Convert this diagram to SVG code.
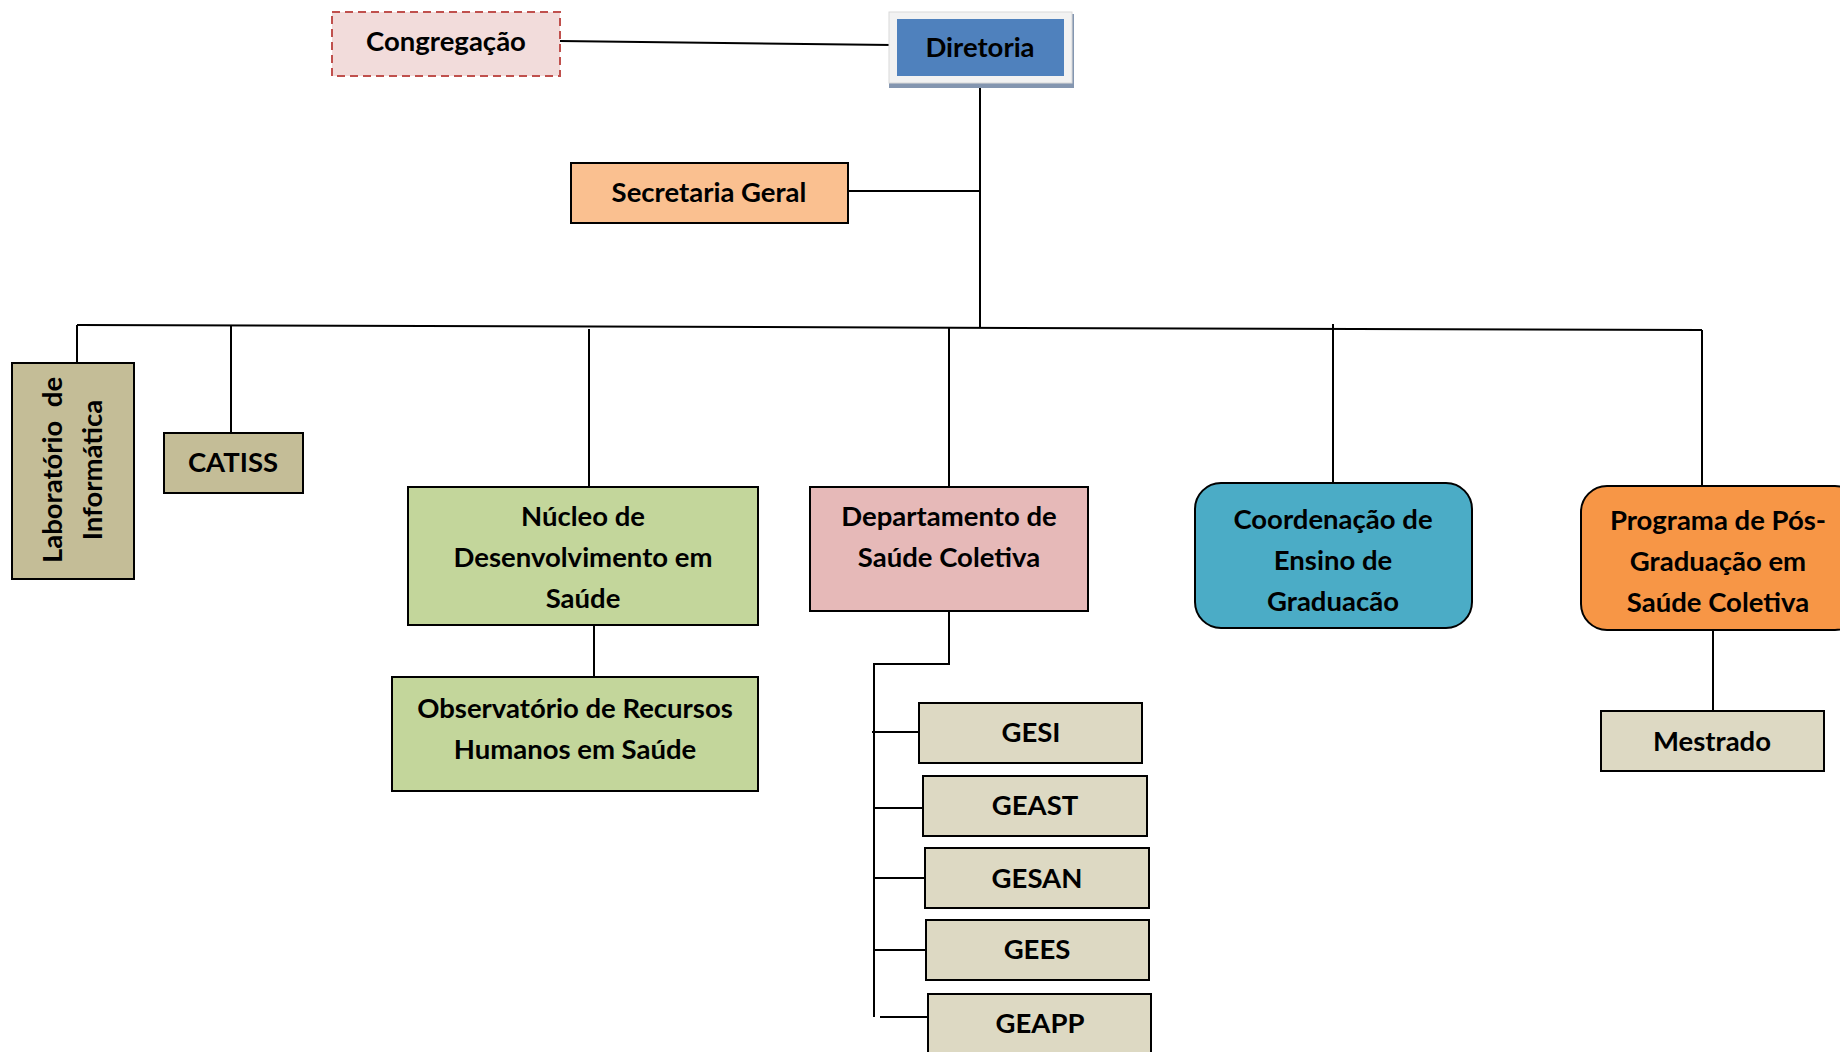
<svg xmlns="http://www.w3.org/2000/svg" width="1840" height="1052" viewBox="0 0 1840 1052">
<style>
text{font-family:Lato,"Liberation Sans",sans-serif;font-weight:700;font-size:27.5px;fill:#000;text-anchor:middle}
.b{stroke:#000;stroke-width:2}
.c line,.c polyline{stroke:#000;stroke-width:2;fill:none}
</style>
<rect width="1840" height="1052" fill="#fff"/>
<g class="c" id="connectors">
<line x1="560" y1="41" x2="892" y2="45"/>
<line x1="980" y1="76" x2="980" y2="328"/>
<line x1="848" y1="191" x2="980" y2="191"/>
<line x1="77" y1="325" x2="1702" y2="330" stroke-width="3"/>
<line x1="77" y1="325" x2="77" y2="363"/>
<line x1="231" y1="325" x2="231" y2="433"/>
<line x1="589" y1="329" x2="589" y2="487"/>
<line x1="949" y1="328" x2="949" y2="487"/>
<line x1="1333" y1="324" x2="1333" y2="483"/>
<line x1="1702" y1="330" x2="1702" y2="486"/>
<line x1="594" y1="625" x2="594" y2="677"/>
<polyline points="949,611 949,664 874,664 874,1017"/>
<line x1="872" y1="732" x2="919" y2="732"/>
<line x1="874" y1="808" x2="923" y2="808"/>
<line x1="874" y1="878" x2="925" y2="878"/>
<line x1="874" y1="950" x2="926" y2="950"/>
<line x1="880" y1="1017" x2="928" y2="1017"/>
<line x1="1713" y1="630" x2="1713" y2="711"/>
</g>
<g id="congregacao">
<rect x="332" y="12" width="228" height="64" fill="#f2dcdb" stroke="#c0504d" stroke-width="2" stroke-dasharray="8,5"/>
<text x="446" y="51">Congregação</text>
</g>
<g id="diretoria">
<rect x="889" y="14" width="185" height="74" fill="#8496b0"/>
<rect x="889" y="12" width="183" height="71" fill="#f2f2f2" stroke="#d9d9d9"/>
<rect x="897" y="19" width="167" height="57" fill="#4f81bd"/>
<text x="980" y="57">Diretoria</text>
</g>
<g id="secretaria">
<rect x="571" y="163" width="277" height="60" fill="#fac090" class="b"/>
<text x="709" y="202">Secretaria Geral</text>
</g>
<g id="laboratorio">
<rect x="12" y="363" width="122" height="216" fill="#c4bd97" class="b"/>
<text transform="translate(62,470) rotate(-90)" xml:space="preserve">Laboratório  de</text>
<text transform="translate(102,470) rotate(-90)">Informática</text>
</g>
<g id="catiss">
<rect x="164" y="433" width="139" height="60" fill="#c4bd97" class="b"/>
<text x="233" y="472">CATISS</text>
</g>
<g id="nucleo">
<rect x="408" y="487" width="350" height="138" fill="#c3d69b" class="b"/>
<text x="583" y="526">Núcleo de</text>
<text x="583" y="567">Desenvolvimento em</text>
<text x="583" y="608">Saúde</text>
</g>
<g id="observatorio">
<rect x="392" y="677" width="366" height="114" fill="#c3d69b" class="b"/>
<text x="575" y="718">Observatório de Recursos</text>
<text x="575" y="759">Humanos em Saúde</text>
</g>
<g id="departamento">
<rect x="810" y="487" width="278" height="124" fill="#e6b9b8" class="b"/>
<text x="949" y="526">Departamento de</text>
<text x="949" y="567">Saúde Coletiva</text>
</g>
<g id="gesi">
<rect x="919" y="703" width="223" height="60" fill="#ddd9c3" class="b"/>
<text x="1031" y="742">GESI</text>
</g>
<g id="geast">
<rect x="923" y="776" width="224" height="60" fill="#ddd9c3" class="b"/>
<text x="1035" y="815">GEAST</text>
</g>
<g id="gesan">
<rect x="925" y="848" width="224" height="60" fill="#ddd9c3" class="b"/>
<text x="1037" y="888">GESAN</text>
</g>
<g id="gees">
<rect x="926" y="920" width="223" height="60" fill="#ddd9c3" class="b"/>
<text x="1037" y="959">GEES</text>
</g>
<g id="geapp">
<rect x="928" y="994" width="223" height="70" fill="#ddd9c3" class="b"/>
<text x="1040" y="1033">GEAPP</text>
</g>
<g id="coordenacao">
<rect x="1195" y="483" width="277" height="145" rx="26" fill="#4bacc6" class="b"/>
<text x="1333" y="529">Coordenação de</text>
<text x="1333" y="570">Ensino de</text>
<text x="1333" y="611">Graduacão</text>
</g>
<g id="programa">
<rect x="1581" y="486" width="280" height="144" rx="26" fill="#f79646" class="b"/>
<text x="1718" y="530">Programa de Pós-</text>
<text x="1718" y="571">Graduação em</text>
<text x="1718" y="612">Saúde Coletiva</text>
</g>
<g id="mestrado">
<rect x="1601" y="711" width="223" height="60" fill="#ddd9c3" class="b"/>
<text x="1712" y="751">Mestrado</text>
</g>
</svg>
